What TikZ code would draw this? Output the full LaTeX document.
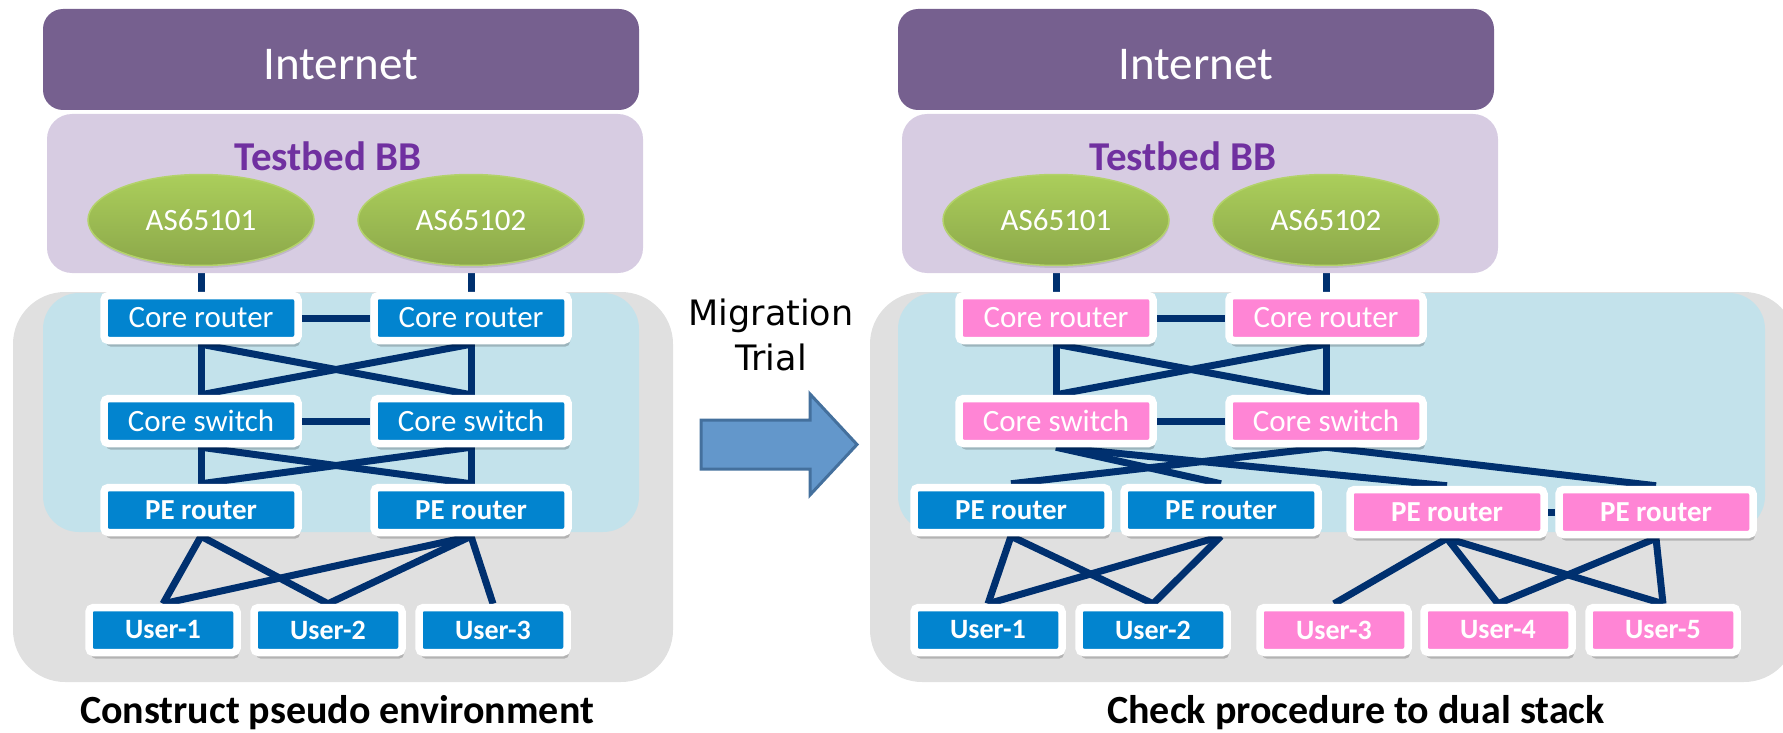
\documentclass[tikz,border=0pt]{standalone}
\usepackage{fontspec}
\setmainfont{Carlito}
\newfontfamily\dejavu{DejaVu Sans}
\usetikzlibrary{shapes.geometric,shadows}

\definecolor{navy}{HTML}{00306F}
\definecolor{devblue}{HTML}{0284CF}
\definecolor{devpink}{HTML}{FF85D5}
\definecolor{panelgray}{HTML}{E0E0E0}
\definecolor{panelblue}{HTML}{C3E2EB}
\definecolor{inetpurple}{HTML}{76608F}
\definecolor{tbfill}{HTML}{D7CCE2}
\definecolor{tbtext}{HTML}{7030A0}
\definecolor{asTop}{HTML}{ABCE5B}
\definecolor{asBot}{HTML}{8CA84A}
\definecolor{asEdge}{HTML}{B3D26A}
\definecolor{arrowfill}{HTML}{6397CB}
\definecolor{arrowdraw}{HTML}{44709D}

\pgfdeclarelayer{bg}
\pgfdeclarelayer{links}
\pgfsetlayers{bg,links,main}

\tikzset{
  device/.style={draw=white, line width=7.5pt, rounded corners=4.5pt, fill=#1,
    minimum width=194pt, minimum height=45pt, inner sep=0pt, text=white,
    drop shadow={shadow xshift=2pt, shadow yshift=-6pt, opacity=0.2, fill=black}},
  router/.style={device=#1, font=\fontsize{31}{31}\selectfont},
  pebox/.style={device=#1, font=\bfseries\fontsize{29}{29}\selectfont},
  userbox/.style={device=#1, minimum width=148pt, font=\bfseries\fontsize{28}{28}\selectfont},
  link/.style={draw=navy, line width=7pt},
  asnode/.style={ellipse, minimum width=226pt, minimum height=91pt, inner sep=0pt,
    top color=asTop, bottom color=asBot, draw=asEdge, line width=1.5pt, text=white,
    font=\fontsize{31}{31}\selectfont,
    drop shadow={shadow xshift=0.5pt, shadow yshift=-2.5pt, opacity=0.1, fill=black}},
  inetbox/.style={fill=inetpurple, rounded corners=20pt, minimum width=596pt,
    minimum height=101pt, inner sep=0pt, text=white, text height=41pt, text depth=0pt,
    font=\fontsize{47}{47}\selectfont},
  tbbox/.style={fill=tbfill, rounded corners=25pt, minimum width=596pt,
    minimum height=159pt, inner sep=0pt},
  tbtitle/.style={anchor=base, text=tbtext, font=\bfseries\fontsize{41}{41}\selectfont, inner sep=0pt},
  caption/.style={anchor=base, font=\bfseries\fontsize{40}{40}\selectfont, inner sep=0pt},
}

\begin{document}
\begin{tikzpicture}[x=1pt,y=-1pt]
\useasboundingbox (0,0) rectangle (1783,733);

% ---------- panels ----------
\begin{pgfonlayer}{bg}
  \fill[panelgray, rounded corners=52pt] (13,292) rectangle (673,682);
  \fill[panelblue, rounded corners=36pt] (43,293) rectangle (639,532);
  \fill[panelgray, rounded corners=52pt] (870,292) rectangle (1796,682);
  \fill[panelblue, rounded corners=36pt] (898,293) rectangle (1765,532);
\end{pgfonlayer}

% ---------- left: pseudo environment ----------
\node[inetbox] (inet1) at (341,59.5) {Internet};
\node[tbbox] (tb1) at (345,193.5) {};
\node[tbtitle] (tbt1) at (328,171) {Testbed BB};
\node[asnode] (as1a) at (201,220) {AS65101};
\node[asnode] (as1b) at (471,220) {AS65102};

\node[router=devblue] (cr1a) at (201,318) {Core router};
\node[router=devblue] (cr1b) at (471,318) {Core router};
\node[router=devblue] (cs1a) at (201,421) {Core switch};
\node[router=devblue] (cs1b) at (471,421) {Core switch};
\node[pebox=devblue] (pe1a) at (201,510) {PE router};
\node[pebox=devblue] (pe1b) at (471,510) {PE router};
\node[userbox=devblue] (u1a) at (163,630) {User-1};
\node[userbox=devblue] (u1b) at (328,630) {User-2};
\node[userbox=devblue] (u1c) at (493,630) {User-3};

\node[caption] (cap1) at (337,723) {Construct pseudo environment};

% ---------- migration arrow ----------
\draw[fill=arrowfill, draw=arrowdraw, line width=3pt, line join=miter]
  (701,420) -- (810,420) -- (810,394) -- (857,444.5) -- (810,495) -- (810,469) -- (701,469) -- cycle;
\node[anchor=base, align=center, inner sep=0pt, font=\dejavu\fontsize{35}{45}\selectfont] (mig) at (771,370) {Migration\\Trial};

% ---------- right: dual stack ----------
\node[inetbox] (inet2) at (1196,59.5) {Internet};
\node[tbbox] (tb2) at (1200,193.5) {};
\node[tbtitle] (tbt2) at (1183,171) {Testbed BB};
\node[asnode] (as2a) at (1056,220) {AS65101};
\node[asnode] (as2b) at (1326,220) {AS65102};

\node[router=devpink] (cr2a) at (1056,318) {Core router};
\node[router=devpink] (cr2b) at (1326,318) {Core router};
\node[router=devpink] (cs2a) at (1056,421) {Core switch};
\node[router=devpink] (cs2b) at (1326,421) {Core switch};
\node[pebox=devblue] (pe2a) at (1011,510) {PE router};
\node[pebox=devblue] (pe2b) at (1221,510) {PE router};
\node[pebox=devpink] (pe2c) at (1447,512) {PE router};
\node[pebox=devpink] (pe2d) at (1656,512) {PE router};
\node[userbox=devblue] (u2a) at (988,630) {User-1};
\node[userbox=devblue] (u2b) at (1153,630) {User-2};
\node[userbox=devpink] (u2c) at (1334,630) {User-3};
\node[userbox=devpink] (u2d) at (1498,630) {User-4};
\node[userbox=devpink] (u2e) at (1663,630) {User-5};

\node[caption] (cap2) at (1356,723) {Check procedure to dual stack};

% ---------- links ----------
\begin{pgfonlayer}{links}
  % left side
  \draw[link] (as1a.south) -- (cr1a.north);
  \draw[link] (as1b.south) -- (cr1b.north);
  \draw[link] (cr1a) -- (cr1b);
  \draw[link] (cr1a.south) -- (cs1a.north);
  \draw[link] (cr1b.south) -- (cs1b.north);
  \draw[link] (cr1a.south) -- (cs1b.north);
  \draw[link] (cr1b.south) -- (cs1a.north);
  \draw[link] (cs1a) -- (cs1b);
  \draw[link] (cs1a.south) -- (pe1a.north);
  \draw[link] (cs1b.south) -- (pe1b.north);
  \draw[link] (cs1a.south) -- (pe1b.north);
  \draw[link] (cs1b.south) -- (pe1a.north);
  \draw[link] (pe1a.south) -- (u1a.north);
  \draw[link] (pe1a.south) -- (u1b.north);
  \draw[link] (pe1b.south) -- (u1a.north);
  \draw[link] (pe1b.south) -- (u1b.north);
  \draw[link] (pe1b.south) -- (u1c.north);
  % right side
  \draw[link] (as2a.south) -- (cr2a.north);
  \draw[link] (as2b.south) -- (cr2b.north);
  \draw[link] (cr2a) -- (cr2b);
  \draw[link] (cr2a.south) -- (cs2a.north);
  \draw[link] (cr2b.south) -- (cs2b.north);
  \draw[link] (cr2a.south) -- (cs2b.north);
  \draw[link] (cr2b.south) -- (cs2a.north);
  \draw[link] (cs2a) -- (cs2b);
  \draw[link] (cs2a.south) -- (pe2b.north);
  \draw[link] (cs2a.south) -- (pe2c.north);
  \draw[link] (cs2b.south) -- (pe2a.north);
  \draw[link] (cs2b.south) -- (pe2d.north);
  \draw[link] (pe2c) -- (pe2d);
  \draw[link] (pe2a.south) -- (u2a.north);
  \draw[link] (pe2a.south) -- (u2b.north);
  \draw[link] (pe2b.south) -- (u2a.north);
  \draw[link] (pe2b.south) -- (u2b.north);
  \draw[link] (pe2c.south) -- (u2c.north);
  \draw[link] (pe2c.south) -- (u2d.north);
  \draw[link] (pe2c.south) -- (u2e.north);
  \draw[link] (pe2d.south) -- (u2d.north);
  \draw[link] (pe2d.south) -- (u2e.north);
\end{pgfonlayer}
\end{tikzpicture}
\end{document}
